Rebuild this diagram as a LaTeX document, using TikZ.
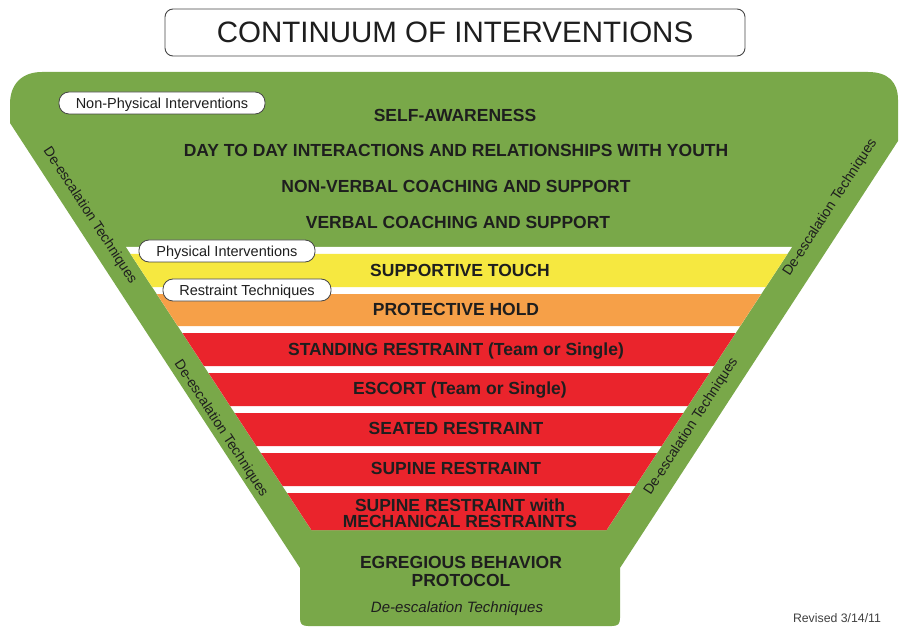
\documentclass[tikz,border=0pt]{standalone}
\usepackage{fontspec}
\setmainfont{Liberation Sans}
\definecolor{grn}{RGB}{121,168,73}
\definecolor{yel}{RGB}{246,232,64}
\definecolor{org}{RGB}{246,160,72}
\definecolor{rd}{RGB}{234,36,44}
\definecolor{txt}{RGB}{30,30,30}
\definecolor{edge}{RGB}{70,70,70}
\begin{document}
\begin{tikzpicture}[x=1pt,y=-1pt,
  bandtext/.style={font=\fontsize{17.5}{20}\selectfont\bfseries, text=txt, text height=12.5pt, text depth=0pt, inner sep=0pt},
  pill/.style={draw=edge, fill=white, rounded corners=10pt, line width=0.8pt, font=\fontsize{14.5}{16}\selectfont, text=txt, text height=10.4pt, text depth=0pt, inner sep=0pt, minimum height=22pt},
  sidetext/.style={font=\fontsize{14}{16}\selectfont, text=txt, text height=10pt, text depth=0pt, inner sep=0pt}]
\useasboundingbox (0,0) rectangle (899,628);
% title
\node[draw=edge, fill=white, rounded corners=8pt, line width=0.9pt, minimum width=580pt, minimum height=47pt, inner sep=0pt] (titlebox) at (455,32.5) {};
\node[font=\fontsize{29.5}{34}\selectfont, text=txt, text height=21pt, text depth=0pt, inner sep=0pt] (title) at (455,32) {CONTINUUM OF INTERVENTIONS};
% outer green funnel
\fill[grn] (10,123) -- (300,568) -- (300,618) .. controls (300,624) and (302,626) .. (308,626)
  -- (612,626) .. controls (618,626) and (620,624) .. (620,618) -- (620,568)
  -- (898,141) -- (898,100) .. controls (898,82) and (888,72) .. (868,72)
  -- (42,72) .. controls (22,72) and (10,84) .. (10,104) -- cycle;
% inner white trapezoid
\fill[white] ({128+0.655*(247-250)},247) -- ({790-0.655*(247-250)},247) -- ({790-0.655*(530-250)},530) -- ({128+0.655*(530-250)},530) -- cycle;
% colored bands
\foreach \ya/\yb/\col in {254/287/yel, 294/326/org, 333/366/rd, 373/406/rd, 413/446/rd, 453/486/rd, 493/530/rd}{
  \fill[\col] ({128+0.655*(\ya-250)},\ya) -- ({790-0.655*(\ya-250)},\ya) -- ({790-0.655*(\yb-250)},\yb) -- ({128+0.655*(\yb-250)},\yb) -- cycle;
}
% texts
\node[bandtext] (self) at (455,115) {SELF-AWARENESS};
\node[bandtext] (day) at (456,150) {DAY TO DAY INTERACTIONS AND RELATIONSHIPS WITH YOUTH};
\node[bandtext] (nonverbal) at (456,186) {NON-VERBAL COACHING AND SUPPORT};
\node[bandtext] (verbal) at (458,222) {VERBAL COACHING AND SUPPORT};
\node[bandtext] (supportive) at (460,270) {SUPPORTIVE TOUCH};
\node[bandtext] (protective) at (456,309) {PROTECTIVE HOLD};
\node[bandtext] (standing) at (456,349) {STANDING RESTRAINT (Team or Single)};
\node[bandtext] (escort) at (460,388) {ESCORT (Team or Single)};
\node[bandtext] (seated) at (456,428) {SEATED RESTRAINT};
\node[bandtext] (supine) at (456,468) {SUPINE RESTRAINT};
\node[bandtext] (supinemA) at (460,505) {SUPINE RESTRAINT with};
\node[bandtext] (supinemB) at (460,521) {MECHANICAL RESTRAINTS};
\node[bandtext] (egregA) at (461,562) {EGREGIOUS BEHAVIOR};
\node[bandtext] (egregB) at (461,580) {PROTOCOL};
\node[font=\fontsize{15}{17}\selectfont\itshape, text=txt, text height=10.7pt, text depth=0pt, inner sep=0pt] (deescB) at (457,607) {De-escalation Techniques};
% pills
\node[pill, minimum width=206pt] (nonphys) at (162,103) {Non-Physical Interventions};
\node[pill, minimum width=176pt] (phys) at (227,251) {Physical Interventions};
\node[pill, minimum width=168pt] (restr) at (247,290) {Restraint Techniques};
% side labels
\node[sidetext, rotate=-56.9] (deescLU) at (91,215) {De-escalation Techniques};
\node[sidetext, rotate=-56.9] (deescLL) at (222,428) {De-escalation Techniques};
\node[sidetext, rotate=57] (deescRU) at (829,207) {De-escalation Techniques};
\node[sidetext, rotate=57] (deescRL) at (690,426) {De-escalation Techniques};
% revised
\node[font=\fontsize{12.3}{14}\selectfont, text=txt!85, text height=8.8pt, text depth=0pt, inner sep=0pt] (revised) at (837,618) {Revised 3/14/11};
\end{tikzpicture}
\end{document}
